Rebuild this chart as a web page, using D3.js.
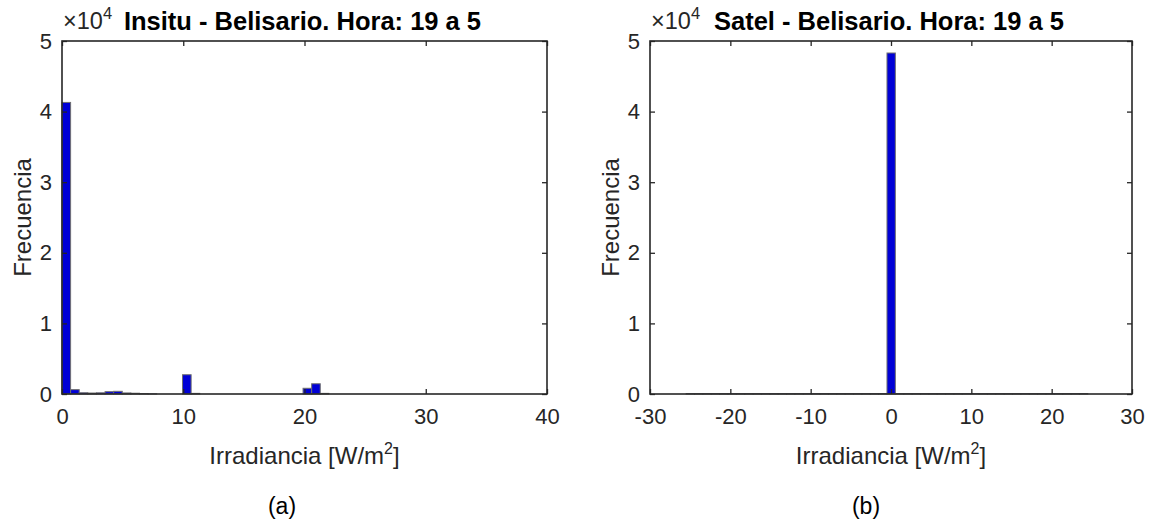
<!DOCTYPE html>
<html>
<head>
<meta charset="utf-8">
<script src="https://cdn.jsdelivr.net/npm/d3@7"></script>
<style>
  body { margin: 0; background: #fff; }
  text { font-family: "Liberation Sans", Arial, Helvetica, sans-serif; }
</style>
</head>
<body>
<svg id="fig" width="1149" height="520"></svg>
<script>
// Histogram of in-situ night irradiance (bins of equal width starting at 0)
const insituBinStart = 0;
const insituBinWidth = 0.71;
const insituCounts = [
  41300, 620, 180, 140, 170, 330, 380, 150, 110, 60,
  20, 0, 0, 0, 2730, 90, 0, 0, 0, 0,
  0, 0, 0, 0, 0, 0, 0, 0, 810, 1450,
  90
];

// Histogram of satellite night irradiance (48 bins spanning -25.5 .. 24.5)
const satelBinStart = -25.5;
const satelBinWidth = 50 / 48;
const satelCounts = [
  60, 60, 60, 60, 60, 60, 60, 60, 60, 60, 60, 60,
  60, 60, 60, 60, 60, 60, 60, 60, 60, 60, 60, 60,
  48300,
  60, 60, 60, 60, 60, 60, 60, 60, 60, 60, 60, 60,
  60, 60, 60, 60, 60, 60, 60, 60, 60, 60, 60
];

const insituXTicks = [0, 10, 20, 30, 40];
const satelXTicks = [-30, -20, -10, 0, 10, 20, 30];
const yTicks = [0, 10000, 20000, 30000, 40000, 50000];

const panels = [
  {
    title: "Insitu - Belisario. Hora: 19 a 5",
    tag: "(a)",
    domain: [0, 40],
    xTicks: insituXTicks,
    binStart: insituBinStart,
    binWidth: insituBinWidth,
    counts: insituCounts,
    left: 62, right: 547, tagX: 282
  },
  {
    title: "Satel - Belisario. Hora: 19 a 5",
    tag: "(b)",
    domain: [-30, 30],
    xTicks: satelXTicks,
    binStart: satelBinStart,
    binWidth: satelBinWidth,
    counts: satelCounts,
    left: 650, right: 1132, tagX: 866
  }
];

const plotTop = 41, plotBottom = 394;
const ink = "#262626";
const tickFont = 22, labelFont = 24, titleFont = 25.5;
const svg = d3.select("#fig");
svg.append("rect").attr("width", 1149).attr("height", 520).attr("fill", "#fff");

panels.forEach(p => {
  const x = d3.scaleLinear().domain(p.domain).range([p.left, p.right]);
  const y = d3.scaleLinear().domain([0, 50000]).range([plotBottom, plotTop]);
  const g = svg.append("g");

  // bars
  const bins = p.counts.map((c, i) => ({
    x0: p.binStart + i * p.binWidth,
    x1: p.binStart + (i + 1) * p.binWidth,
    n: c
  }));
  g.append("g").selectAll("rect").data(bins).join("rect")
    .attr("x", d => x(d.x0))
    .attr("width", d => x(d.x1) - x(d.x0))
    .attr("y", d => y(d.n))
    .attr("height", d => y(0) - y(d.n))
    .attr("fill", "#0000d6")
    .attr("stroke", "#707070")
    .attr("stroke-width", 1);

  // axes with inward ticks on all four sides
  const tl = 5;
  const xb = g.append("g").attr("transform", `translate(0,${plotBottom})`)
    .call(d3.axisBottom(x).tickValues(p.xTicks).tickSize(-tl).tickPadding(12).tickFormat(d => String(d)));
  const xt = g.append("g").attr("transform", `translate(0,${plotTop})`)
    .call(d3.axisTop(x).tickValues(p.xTicks).tickSize(-tl).tickFormat(""));
  const yl = g.append("g").attr("transform", `translate(${p.left},0)`)
    .call(d3.axisLeft(y).tickValues(yTicks).tickSize(-tl).tickPadding(10).tickFormat(d => String(d / 10000)));
  const yr = g.append("g").attr("transform", `translate(${p.right},0)`)
    .call(d3.axisRight(y).tickValues(yTicks).tickSize(-tl).tickFormat(""));
  [xb, xt, yl, yr].forEach(a => {
    a.select(".domain").remove();
    a.selectAll("line").attr("stroke", ink).attr("stroke-width", 1.3);
    a.selectAll("text").attr("fill", ink).attr("font-size", tickFont)
      .attr("font-family", "'Liberation Sans', Arial, sans-serif");
  });
  xb.selectAll("text").attr("dy", "0.8em");

  // axes box
  g.append("rect")
    .attr("x", p.left).attr("y", plotTop)
    .attr("width", p.right - p.left).attr("height", plotBottom - plotTop)
    .attr("fill", "none").attr("stroke", ink).attr("stroke-width", 1.6);

  // exponent multiplier
  const mult = g.append("text").attr("x", p.left + 1).attr("y", 29)
    .attr("fill", ink).attr("font-size", 23.5);
  mult.append("tspan").text("\u00d710");
  mult.append("tspan").attr("dy", -10).attr("font-size", 16.5).text("4");

  // title
  g.append("text").attr("x", (p.left + p.right) / 2 - 2).attr("y", 30)
    .attr("text-anchor", "middle").attr("font-weight", "bold")
    .attr("font-size", titleFont).attr("fill", "#000").text(p.title);

  // x label
  const xl = g.append("text").attr("x", (p.left + p.right) / 2).attr("y", 464)
    .attr("text-anchor", "middle").attr("font-size", labelFont).attr("fill", ink);
  xl.append("tspan").text("Irradiancia [W/m");
  xl.append("tspan").attr("dy", -10).attr("font-size", 16).text("2");
  xl.append("tspan").attr("dy", 10).text("]");

  // y label
  g.append("text")
    .attr("transform", `translate(${p.left - 31},${(plotTop + plotBottom) / 2}) rotate(-90)`)
    .attr("text-anchor", "middle").attr("font-size", labelFont).attr("fill", ink)
    .text("Frecuencia");

  // panel tag
  g.append("text").attr("x", p.tagX).attr("y", 514)
    .attr("text-anchor", "middle").attr("font-size", 23).attr("fill", "#000")
    .text(p.tag);
});
</script>
</body>
</html>
